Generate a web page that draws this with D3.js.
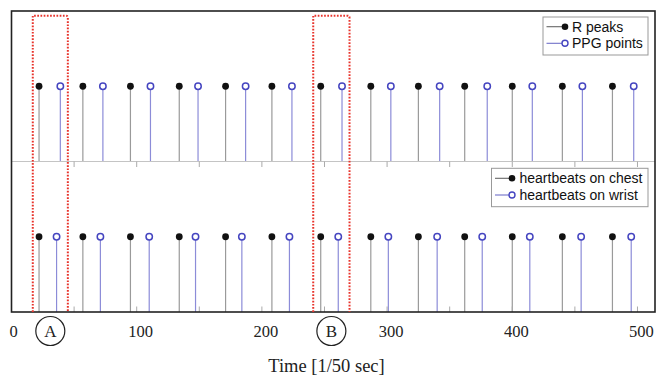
<!DOCTYPE html>
<html>
<head>
<meta charset="utf-8">
<script src="https://cdn.jsdelivr.net/npm/d3@7"></script>
<style>
  body { margin: 0; background: #fff; }
  svg { display: block; }
</style>
</head>
<body>
<div id="chart"></div>
<script>
// sample indices (1/50 sec)
const rPeaks = [22, 57, 95, 134, 171, 208, 247, 287, 325, 362, 400, 440, 480];
const ppgPoints = [39, 73, 111, 149, 187, 224, 264, 303, 342, 380, 416, 456, 497];
const chestBeats = [22, 57, 95, 134, 171, 208, 247, 287, 325, 362, 400, 440, 480];
const wristBeats = [36, 71, 110, 147, 184, 222, 261, 301, 340, 376, 414, 455, 495];
const tickValues = [0, 100, 200, 300, 400, 500];
const minorTicks = [0, 50, 100, 150, 200, 250, 300, 350, 400, 450, 500];
const regionLabels = ["A", "B"];
const regionStart = [17, 241];
const regionEnd = [45, 270];

document.addEventListener('DOMContentLoaded', function() {
    const width = 664, height = 380;
    const left = 11.5, right = 655, top = 11, mid = 161.5, bottom = 312;

    const svg = d3.select('#chart').append('svg')
        .attr('width', width)
        .attr('height', height);

    const x = d3.scaleLinear().domain([0, 514]).range([left, right]);
    const yTop = d3.scaleLinear().domain([0, 2]).range([mid, top]);
    const yBot = d3.scaleLinear().domain([0, 2]).range([bottom, mid]);

    // Stems + Marker
    function stems(data, y, stemColor, filled) {
        const g = svg.append('g');
        g.selectAll('line')
            .data(data)
            .enter().append('line')
            .attr('x1', d => x(d)).attr('x2', d => x(d))
            .attr('y1', y(0)).attr('y2', y(1))
            .attr('stroke', stemColor)
            .attr('stroke-width', 1.2);
        g.selectAll('circle')
            .data(data)
            .enter().append('circle')
            .attr('cx', d => x(d))
            .attr('cy', y(1))
            .attr('r', filled ? 3.4 : 3.2)
            .attr('fill', filled ? '#111' : '#fff')
            .attr('stroke', filled ? 'none' : '#4545c0')
            .attr('stroke-width', 1.5);
    }

    stems(rPeaks, yTop, '#9a9a9a', true);
    stems(ppgPoints, yTop, '#8c8cd8', false);
    stems(chestBeats, yBot, '#9a9a9a', true);
    stems(wristBeats, yBot, '#8c8cd8', false);

    // Mittellinie und Ticks
    svg.append('line')
        .attr('x1', left).attr('x2', right)
        .attr('y1', mid).attr('y2', mid)
        .attr('stroke', '#c4c4c4').attr('stroke-width', 1.2);

    svg.append('g').selectAll('line')
        .data(minorTicks.slice(1))
        .enter().append('line')
        .attr('x1', d => x(d)).attr('x2', d => x(d))
        .attr('y1', mid).attr('y2', mid + 5.5)
        .attr('stroke', '#aaa');

    svg.append('g').selectAll('line')
        .data(minorTicks.slice(1))
        .enter().append('line')
        .attr('x1', d => x(d)).attr('x2', d => x(d))
        .attr('y1', bottom).attr('y2', bottom - 5.5)
        .attr('stroke', '#aaa');

    // Rahmen
    svg.append('rect')
        .attr('x', left).attr('y', top)
        .attr('width', right - left).attr('height', bottom - top)
        .attr('fill', 'none')
        .attr('stroke', '#222')
        .attr('stroke-width', 1.6);

    // rote Markierungen A / B
    regionLabels.forEach((lab, i) => {
        const x0 = x(regionStart[i]), x1 = x(regionEnd[i]);
        svg.append('path')
            .attr('d', `M${x0},${bottom} L${x0},15.7 L${x1 - 2},15.7 Q${x1},15.7 ${x1},17.7 L${x1},${bottom}`)
            .attr('fill', 'none')
            .attr('stroke', '#e8342c')
            .attr('stroke-width', 2)
            .attr('stroke-dasharray', '1.7,1.5');
        const cx = (x0 + x1) / 2;
        svg.append('circle')
            .attr('cx', cx).attr('cy', 331)
            .attr('r', 14.5)
            .attr('fill', 'none')
            .attr('stroke', '#222')
            .attr('stroke-width', 1.2);
        svg.append('text')
            .attr('x', cx).attr('y', 337)
            .attr('text-anchor', 'middle')
            .style('font-family', '"Liberation Serif", "Times New Roman", serif')
            .style('font-size', '17px')
            .attr('fill', '#222')
            .text(lab);
    });

    // Achsenbeschriftung
    svg.append('g').selectAll('text')
        .data(tickValues)
        .enter().append('text')
        .attr('x', d => x(d) + (d === 0 ? 2 : 4))
        .attr('y', 337)
        .attr('text-anchor', 'middle')
        .style('font-family', '"Liberation Serif", "Times New Roman", serif')
        .style('font-size', '16.5px')
        .attr('fill', '#222')
        .text(d => d);

    svg.append('text')
        .attr('x', 326.5).attr('y', 372)
        .attr('text-anchor', 'middle')
        .style('font-family', '"Liberation Serif", "Times New Roman", serif')
        .style('font-size', '18.5px')
        .attr('fill', '#222')
        .text('Time [1/50 sec]');

    // Legenden
    function legend(bx, by, bw, bh, rows, lineX0, lineX1, textX) {
        const g = svg.append('g');
        g.append('rect')
            .attr('x', bx).attr('y', by)
            .attr('width', bw).attr('height', bh)
            .attr('fill', '#fff')
            .attr('stroke', '#999')
            .attr('stroke-width', 1);
        rows.forEach(r => {
            g.append('line')
                .attr('x1', lineX0).attr('x2', lineX1)
                .attr('y1', r.y).attr('y2', r.y)
                .attr('stroke', r.filled ? '#666' : '#7070c8')
                .attr('stroke-width', 1.1);
            g.append('circle')
                .attr('cx', lineX1).attr('cy', r.y)
                .attr('r', r.filled ? 3.3 : 3)
                .attr('fill', r.filled ? '#111' : '#fff')
                .attr('stroke', r.filled ? 'none' : '#4545c0')
                .attr('stroke-width', 1.4);
            g.append('text')
                .attr('x', textX).attr('y', r.y + 5)
                .style('font-family', '"Liberation Sans", Arial, sans-serif')
                .style('font-size', '14px')
                .attr('fill', '#111')
                .text(r.label);
        });
    }

    legend(543, 17, 105, 38, [
        { label: 'R peaks', y: 26.7, filled: true },
        { label: 'PPG points', y: 43.3, filled: false }
    ], 546.5, 565, 572);

    legend(491.5, 168.3, 156.5, 38.4, [
        { label: 'heartbeats on chest', y: 178.3, filled: true },
        { label: 'heartbeats on wrist', y: 195, filled: false }
    ], 495, 512, 519.5);
});
</script>
</body>
</html>
